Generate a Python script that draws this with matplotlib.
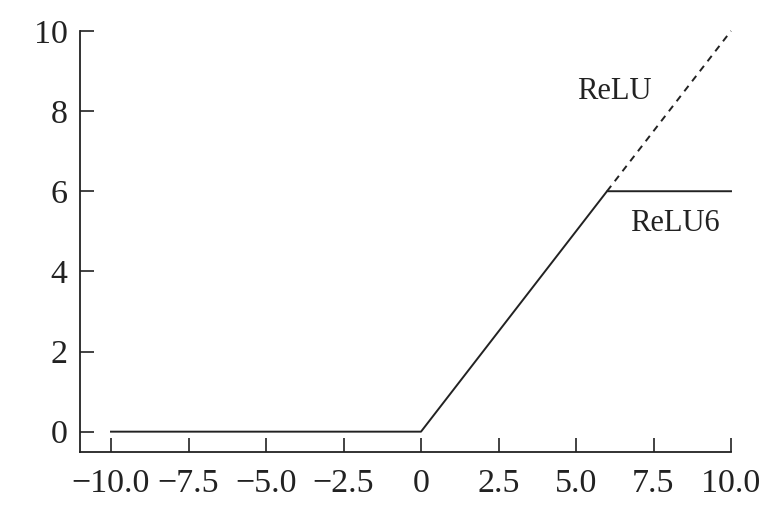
import matplotlib
matplotlib.use('Agg')
import matplotlib.pyplot as plt

# data
x_relu6 = [-10, 0, 6, 10]
y_relu6 = [0, 0, 6, 6]
x_relu_ext = [6, 10]
y_relu_ext = [6, 10]
xticks = [-10.0, -7.5, -5.0, -2.5, 0, 2.5, 5.0, 7.5, 10.0]
xtick_labels = ['\u221210.0', '\u22127.5', '\u22125.0', '\u22122.5', '0', '2.5', '5.0', '7.5', '10.0']
yticks = [0, 2, 4, 6, 8, 10]

plt.rcParams['font.family'] = ['Liberation Serif', 'DejaVu Serif']

fig = plt.figure(figsize=(7.78, 5.14), dpi=100)
ax = fig.add_axes([80 / 778, 1 - 451.7 / 514, (762 - 80) / 778, (451.7 - 10.9) / 514])

ax.plot(x_relu6, y_relu6, color='#222222', lw=1.4)
ax.plot(x_relu_ext, y_relu_ext, color='#222222', lw=1.4, ls=(0, (3.5, 3)))

ax.text(5.05, 8.5, 'ReLU', fontsize=22, ha='left', va='center', color='#222222')
ax.text(6.75, 5.2, 'ReLU6', fontsize=22, ha='left', va='center', color='#222222')

ax.set_xlim(-11, 11)
ax.set_ylim(-0.5, 10.5)
ax.set_xticks(xticks)
ax.set_xticklabels(xtick_labels)
ax.set_yticks(yticks)

for s in ['top', 'right']:
    ax.spines[s].set_visible(False)
ax.spines['bottom'].set_bounds(-11, 10)
ax.spines['left'].set_bounds(-0.5, 10)
for s in ['bottom', 'left']:
    ax.spines[s].set_color('#222222')
    ax.spines[s].set_linewidth(1.3)

ax.tick_params(direction='in', length=10, width=1.2, colors='#222222',
               labelsize=24.5, labelcolor='#222222')
ax.tick_params(axis='x', pad=12)
ax.tick_params(axis='y', pad=9)

fig.savefig('out.png', dpi=100)
